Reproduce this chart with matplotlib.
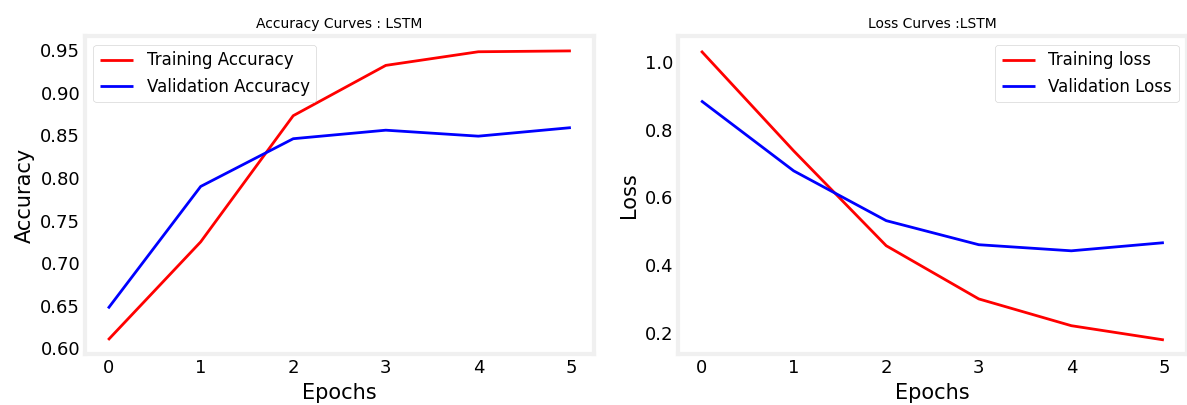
import matplotlib
matplotlib.use('Agg')
import matplotlib.pyplot as plt

# Dane epoka po epoka (ocitano sa slike)
epochs = [0, 1, 2, 3, 4, 5]
train_acc = [0.610, 0.725, 0.873, 0.932, 0.948, 0.949]
val_acc = [0.647, 0.790, 0.846, 0.856, 0.849, 0.859]
train_loss = [1.032, 0.737, 0.457, 0.300, 0.221, 0.179]
val_loss = [0.885, 0.678, 0.531, 0.460, 0.442, 0.466]

plt.style.use('fivethirtyeight')
plt.rcParams['font.family'] = 'DejaVu Sans'
plt.rcParams['figure.facecolor'] = 'white'
plt.rcParams['axes.facecolor'] = 'white'
plt.rcParams['axes.grid'] = False

fig, (ax1, ax2) = plt.subplots(1, 2, figsize=(11.87, 4.05), dpi=100)

ax1.plot(epochs, train_acc, 'r', linewidth=2, label='Training Accuracy')
ax1.plot(epochs, val_acc, 'b', linewidth=2, label='Validation Accuracy')
ax1.set_title('Accuracy Curves : LSTM', fontsize=10)
ax1.set_xlabel('Epochs', fontsize=15)
ax1.set_ylabel('Accuracy', fontsize=15)
ax1.legend(loc='upper left', fontsize=12)

ax2.plot(epochs, train_loss, 'r', linewidth=2, label='Training loss')
ax2.plot(epochs, val_loss, 'b', linewidth=2, label='Validation Loss')
ax2.set_title('Loss Curves :LSTM', fontsize=10)
ax2.set_xlabel('Epochs', fontsize=15)
ax2.set_ylabel('Loss', fontsize=15)
ax2.legend(loc='upper right', fontsize=12)

for ax in (ax1, ax2):
    ax.tick_params(labelsize=13)
    for s in ax.spines.values():
        s.set_color('#f0f0f0')
        s.set_linewidth(3)

plt.subplots_adjust(left=0.0716, right=1.0, top=0.91, bottom=0.125, wspace=0.165)
plt.savefig('out.png')
